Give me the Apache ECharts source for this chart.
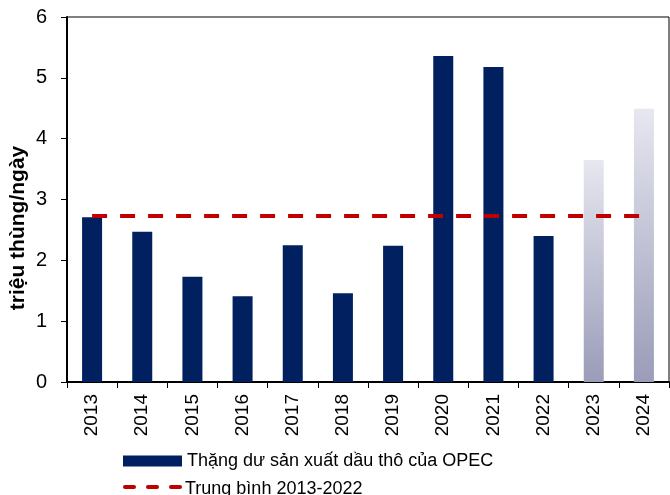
<!DOCTYPE html>
<html>
<head>
<meta charset="utf-8">
<script src="https://cdn.jsdelivr.net/npm/echarts@6/dist/echarts.min.js"></script>
<style>
  html, body { margin: 0; padding: 0; background: #fff; }
  #main { width: 670px; height: 495px; }
</style>
</head>
<body>
<div id="main"></div>
<script>
// du lieu
var years = ['2013', '2014', '2015', '2016', '2017', '2018', '2019', '2020', '2021', '2022', '2023', '2024'];
var surplus = [2.71, 2.47, 1.73, 1.41, 2.25, 1.46, 2.24, 5.36, 5.18, 2.40, 3.65, 4.49];
var forecastYears = ['2023', '2024'];
var average = 2.73;
var yTicks = [0, 1, 2, 3, 4, 5, 6];

var barName = 'Thặng dư sản xuất dầu thô của OPEC';
var lineName = 'Trung bình 2013-2022';
var font = 'Arial, "Liberation Sans", sans-serif';
var red = '#c00000';

var myChart = echarts.init(document.getElementById('main'));

var barData = surplus.map(function (v, i) {
  if (forecastYears.indexOf(years[i]) >= 0) {
    return {
      value: v,
      itemStyle: {
        color: new echarts.graphic.LinearGradient(0, 0, 0, 1, [
          {offset: 0, color: '#e6e7ef'},
          {offset: 1, color: '#9a9cb9'}
        ])
      }
    };
  }
  return v;
});
var avgData = years.map(function () { return average; });

// chu thich cho duong trung binh (net dut)
var dashKey = [123, 146, 169].map(function (x) {
  return {type: 'rect', shape: {x: x, y: 485, width: 13, height: 4, r: 2}, style: {fill: red}};
});

var option = {
  animation: false,
  textStyle: {fontFamily: font},
  grid: {
    left: 67, right: 1, top: 17, bottom: 113,
    show: true, borderColor: '#000', borderWidth: 1
  },
  legend: {
    data: [barName],
    left: 123, top: 452, padding: 0,
    itemWidth: 59, itemHeight: 11,
    icon: 'rect',
    textStyle: {fontSize: 18, color: '#000', fontFamily: font}
  },
  graphic: [{
    type: 'text',
    x: 18, y: 228,
    rotation: Math.PI / 2,
    style: {
      text: 'triệu thùng/ngày',
      font: 'bold 21px ' + font,
      fill: '#000',
      align: 'center',
      verticalAlign: 'middle'
    }
  }, {
    type: 'group',
    children: dashKey.concat([{
      type: 'text',
      x: 185, y: 489,
      style: {
        text: lineName,
        font: '18px ' + font,
        fill: '#000',
        verticalAlign: 'middle'
      }
    }])
  }],
  xAxis: {
    type: 'category',
    data: years,
    axisLine: {lineStyle: {color: '#000', width: 2}},
    axisTick: {show: true, length: 6, lineStyle: {color: '#000', width: 1}},
    axisLabel: {rotate: 90, margin: 12, fontSize: 19, color: '#000', fontFamily: font}
  },
  yAxis: {
    type: 'value',
    min: yTicks[0], max: yTicks[yTicks.length - 1], interval: 1,
    axisLine: {show: true, lineStyle: {color: '#000', width: 2}},
    axisTick: {show: true, length: 6, lineStyle: {color: '#000', width: 1}},
    axisLabel: {margin: 20, fontSize: 20, color: '#000', fontFamily: font},
    splitLine: {show: false}
  },
  series: [{
    name: barName,
    type: 'bar',
    data: barData,
    barWidth: 20,
    itemStyle: {color: '#002060'}
  }, {
    name: lineName,
    type: 'line',
    data: avgData,
    symbol: 'none',
    itemStyle: {color: red},
    lineStyle: {color: red, width: 4, type: [15, 13]}
  }]
};

myChart.setOption(option);
</script>
</body>
</html>
